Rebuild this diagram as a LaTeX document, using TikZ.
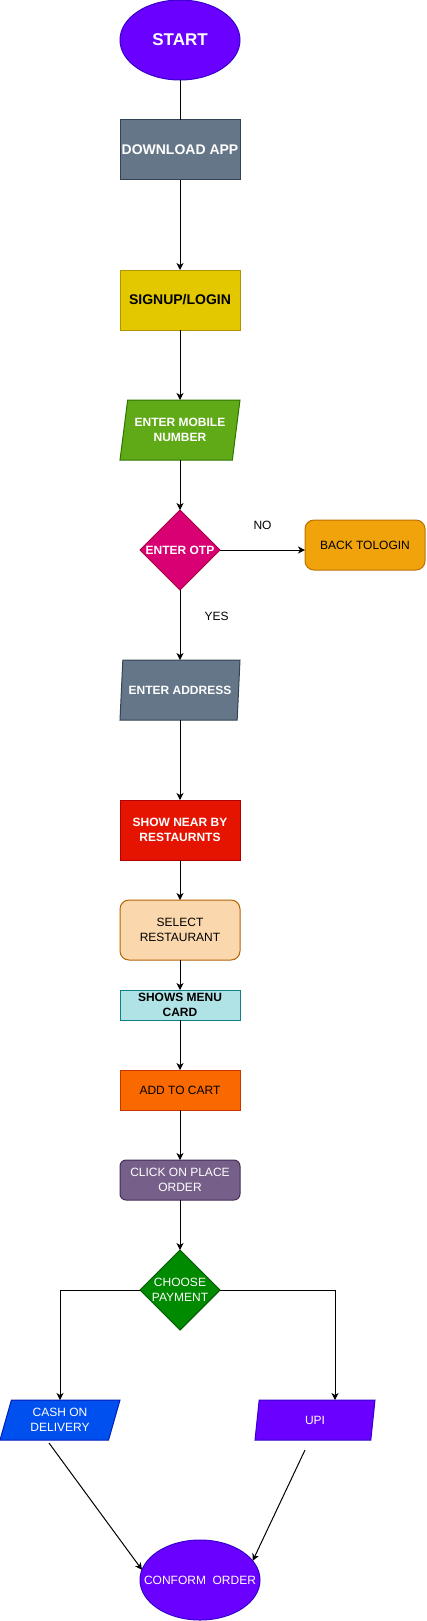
\documentclass[tikz,border=0pt]{standalone}
\usepackage{fontspec}
\setmainfont{Liberation Sans}
\usetikzlibrary{positioning, shapes.geometric, arrows.meta}

\definecolor{violetfill}{HTML}{6A00FF}
\definecolor{violetline}{HTML}{3700CC}
\definecolor{slatefill}{HTML}{647687}
\definecolor{slateline}{HTML}{314354}
\definecolor{mustardfill}{HTML}{E3C800}
\definecolor{mustardline}{HTML}{B09500}
\definecolor{leaffill}{HTML}{60A917}
\definecolor{leafline}{HTML}{2D7600}
\definecolor{magentafill}{HTML}{D80073}
\definecolor{magentaline}{HTML}{A50040}
\definecolor{amberfill}{HTML}{F0A30A}
\definecolor{amberline}{HTML}{BD7000}
\definecolor{redfill}{HTML}{E51400}
\definecolor{redline}{HTML}{B20000}
\definecolor{peachfill}{HTML}{FAD7AC}
\definecolor{peachline}{HTML}{B46504}
\definecolor{aquafill}{HTML}{B0E3E6}
\definecolor{aqualine}{HTML}{0E8088}
\definecolor{orangefill}{HTML}{FA6800}
\definecolor{orangeline}{HTML}{C73500}
\definecolor{plumfill}{HTML}{76608A}
\definecolor{plumline}{HTML}{432D57}
\definecolor{greenfill}{HTML}{008A00}
\definecolor{greenline}{HTML}{005700}
\definecolor{bluefill}{HTML}{0050EF}
\definecolor{blueline}{HTML}{001DBC}

% text line that does not widen its shape
\newcommand{\nowidth}[1]{\makebox[0pt]{#1}}

\begin{document}
\begin{tikzpicture}[
    x=1pt, y=-1pt,
    base/.style={draw, line width=1pt, inner sep=0pt, outer sep=0pt, align=center,
        font=\fontsize{12}{14.5}\selectfont},
    boldtext/.style={font=\bfseries\fontsize{12}{14.5}\selectfont},
    edgelabel/.style={inner sep=0pt, font=\fontsize{12}{14.5}\selectfont},
    stepbox/.style={base, rectangle, minimum width=120pt, minimum height=60pt},
    roundbox/.style={stepbox, rounded corners=9pt},
    terminal/.style={base, ellipse, minimum width=120pt, minimum height=80pt},
    decision/.style={base, diamond, minimum width=80pt, minimum height=80pt},
    iobox/.style={base, trapezium, trapezium left angle=71.57, trapezium right angle=108.43,
        trapezium stretches body, minimum width=120pt, minimum height=60pt},
    flow/.style={line width=1pt, -{Stealth[length=7pt, width=7pt, inset=2pt]}}
]
\useasboundingbox (0,0) rectangle (426,1621);

% Main column
\node[terminal, fill=violetfill, draw=violetline, text=white,
    font=\bfseries\fontsize{17}{20}\selectfont] (start) at (180,40) {\nowidth{START}};
\node[stepbox, fill=slatefill, draw=slateline, text=white,
    font=\bfseries\fontsize{14}{17}\selectfont, below=40pt of start] (download) {DOWNLOAD APP};
\node[stepbox, fill=mustardfill, draw=mustardline,
    font=\bfseries\fontsize{14}{17}\selectfont, below=90pt of download] (signup) {SIGNUP/LOGIN};
\node[iobox, boldtext, fill=leaffill, draw=leafline, text=white,
    below=70pt of signup] (mobile) {\nowidth{ENTER MOBILE}\\\nowidth{NUMBER}};
\node[decision, boldtext, fill=magentafill, draw=magentaline, text=white,
    below=50pt of mobile] (otp) {\nowidth{ENTER OTP}};
\node[roundbox, fill=amberfill, draw=amberline, minimum height=50pt,
    right=85pt of otp, yshift=5pt] (backlogin) {BACK TOLOGIN};
\node[iobox, boldtext, fill=slatefill, draw=slateline, text=white,
    below=70pt of otp] (address) {\nowidth{ENTER ADDRESS}};
\node[stepbox, boldtext, fill=redfill, draw=redline, text=white,
    below=80pt of address] (nearby) {SHOW NEAR BY\\RESTAURNTS};
\node[roundbox, fill=peachfill, draw=peachline, below=40pt of nearby] (select) {SELECT\\RESTAURANT};
\node[stepbox, boldtext, fill=aquafill, draw=aqualine, minimum height=30pt,
    below=30pt of select] (menu) {SHOWS MENU\\CARD};
\node[stepbox, fill=orangefill, draw=orangeline, minimum height=40pt,
    below=50pt of menu] (cart) {ADD TO CART};
\node[roundbox, rounded corners=6pt, fill=plumfill, draw=plumline, text=white,
    minimum height=40pt, below=50pt of cart] (placeorder) {CLICK ON PLACE\\ORDER};
\node[decision, fill=greenfill, draw=greenline, text=white,
    below=50pt of placeorder] (payment) {\nowidth{CHOOSE}\\\nowidth{PAYMENT}};

% Payment options
\node[iobox, minimum height=40pt, trapezium left angle=63.43, trapezium right angle=116.57,
    fill=bluefill, draw=blueline, text=white] (cash) at (60,1420) {\nowidth{CASH ON}\\\nowidth{DELIVERY}};
\node[iobox, minimum height=40pt, trapezium left angle=63.43, trapezium right angle=116.57,
    fill=violetfill, draw=violetline, text=white] (upi) at (315,1420) {UPI};
\node[terminal, fill=violetfill, draw=violetline, text=white] (confirm) at (200,1580)
    {\nowidth{CONFORM\ \ ORDER}};

\coordinate (cashout) at (49,1443);
\coordinate (upiout) at (305,1450);

% Edges
\draw[line width=1pt] (start) -- (download);
\draw[flow] (download) -- (signup);
\draw[flow] (signup) -- (mobile);
\draw[flow] (mobile) -- (otp);
\draw[flow] (otp.east) -- node[edgelabel, above=20pt] {NO} (otp.east -| backlogin.west);
\draw[flow] (otp) -- node[edgelabel, pos=0.37, right=24pt] {YES} (address);
\draw[flow] (address) -- (nearby);
\draw[flow] (nearby) -- (select);
\draw[flow] (select) -- (menu);
\draw[flow] (menu) -- (cart);
\draw[flow] (cart) -- (placeorder);
\draw[flow] (placeorder) -- (payment);
\draw[flow] (payment.west) -| (cash.north);
\draw[flow] (payment.east) -| ([xshift=20pt]upi.north);
\draw[flow] (cashout) -- (confirm.170);
\draw[flow] (upiout) -- (confirm.20);

\end{tikzpicture}
\end{document}
